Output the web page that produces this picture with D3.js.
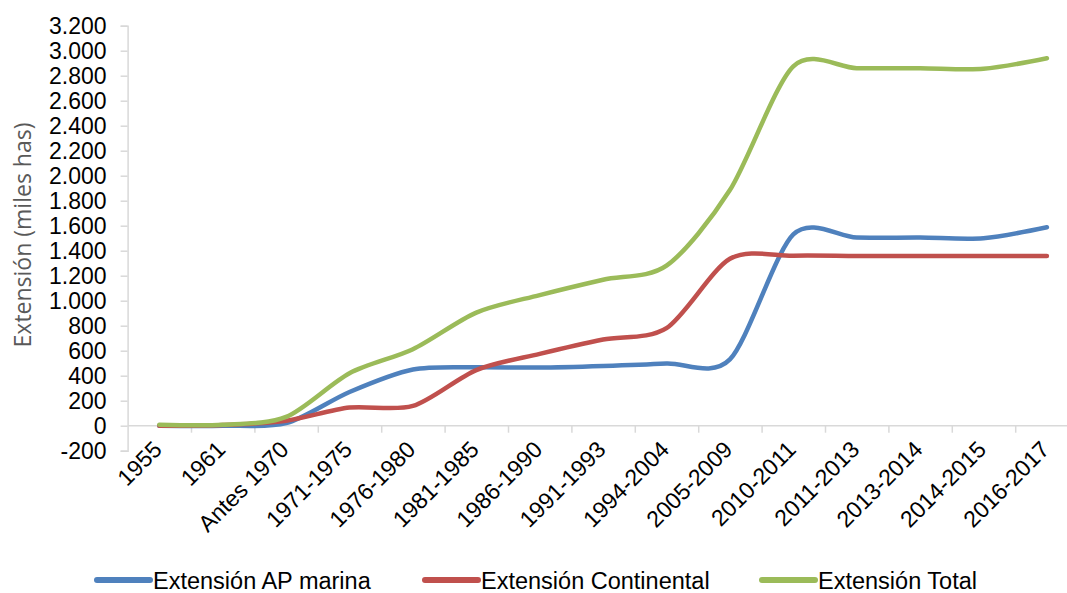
<!DOCTYPE html>
<meta charset="utf-8">
<style>
body{
    margin: 0;
    background: #fff;
}
text {
  font-family: "Liberation Sans", Arial, sans-serif;
  fill: #000;
}
.line {
  fill: none;
  stroke-width: 4.5px;
  stroke-linecap: round;
  stroke-linejoin: round;
}
.axis path, .axis line {
  stroke: #d9d9d9;
  stroke-width: 1.5px;
}
</style>
<body>

<div id="chart"></div>

<script src="https://d3js.org/d3.v7.min.js"></script>
<script>

var categories = ["1955", "1961", "Antes 1970", "1971-1975", "1976-1980", "1981-1985",
                  "1986-1990", "1991-1993", "1994-2004", "2005-2009", "2010-2011",
                  "2011-2013", "2013-2014", "2014-2015", "2016-2017"];

var marina      = [0, 0, 20, 270, 450, 468, 465, 478, 498, 530, 1530, 1505, 1505, 1500, 1587];
var continental = [0, 5, 40, 145, 158, 445, 575, 690, 780, 1335, 1360, 1358, 1358, 1357, 1357];
var total       = [8, 8, 70, 420, 612, 905, 1045, 1168, 1280, 1885, 2875, 2860, 2860, 2855, 2940];

var seriesNames = ["Extensión AP marina", "Extensión Continental", "Extensión Total"];
var colors = ["#4F81BD", "#C0504D", "#9BBB59"];
var yTicks = d3.range(-200, 3201, 200);

var width = 1067, height = 593;
var plotLeft = 127.6, plotRight = 1078.6, plotTop = 25.7, plotBottom = 450.7;

var svg = d3.select("#chart")
  .append("svg")
    .attr("width", width)
    .attr("height", height);

var x = d3.scaleBand()
    .domain(categories)
    .range([plotLeft, plotRight])
    .paddingInner(0);

var xb = d3.scaleLinear()
    .domain([0, categories.length])
    .range([plotLeft, plotRight]);

var y = d3.scaleLinear()
    .domain([-200, 3200])
    .range([plotBottom, plotTop]);

var es = d3.formatLocale({decimal: ",", thousands: ".", grouping: [3], currency: ["", ""], minus: "-"});
var fmt = es.format(",d");

// y axis
var gy = svg.append("g")
    .attr("class", "axis")
    .attr("transform", "translate(" + plotLeft + ",0)")
    .call(d3.axisLeft(y).tickValues(yTicks).tickSize(7).tickPadding(14).tickFormat(fmt));
gy.selectAll("text")
    .style("font-size", "23px")
    .attr("dy", "0.36em");

// category axis on the zero line, ticks between categories
var gx = svg.append("g")
    .attr("class", "axis")
    .attr("transform", "translate(0," + y(0) + ")")
    .call(d3.axisBottom(xb).tickValues(d3.range(1, categories.length + 1)).tickSize(7).tickFormat(""));
gx.select(".domain").attr("d", "M" + plotLeft + ",0H" + plotRight);

svg.append("g")
  .selectAll("text")
  .data(categories)
  .enter()
  .append("text")
    .attr("transform", function(d) { return "translate(" + (x(d) + x.bandwidth() / 2 + 4) + ",451) rotate(-45)"; })
    .attr("text-anchor", "end")
    .style("font-size", "23px")
    .text(function(d) { return d; });

// y title
svg.append("text")
    .attr("transform", "translate(31,235) rotate(-90)")
    .attr("text-anchor", "middle")
    .style("font-family", "'Open Sans', sans-serif")
    .style("font-size", "23px")
    .style("fill", "#595959")
    .text("Extensión (miles has)");

// lines
var line = d3.line()
    .x(function(d, i) { return x(categories[i]) + x.bandwidth() / 2; })
    .y(function(d) { return y(d); })
    .curve(d3.curveCardinal.tension(0.15));

[marina, continental, total].forEach(function(s, i) {
  svg.append("path")
      .datum(s)
      .attr("class", "line")
      .attr("d", line)
      .style("stroke", colors[i]);
});

// legend
var legendX = [97, 425, 762];
var leg = svg.append("g")
  .selectAll("g")
  .data(seriesNames)
  .enter()
  .append("g")
    .attr("transform", function(d, i) { return "translate(" + legendX[i] + ",580)"; });
leg.append("line")
    .attr("x1", 0).attr("x2", 53)
    .attr("y1", 0).attr("y2", 0)
    .style("stroke", function(d, i) { return colors[i]; })
    .style("stroke-width", 6)
    .style("stroke-linecap", "round");
leg.append("text")
    .attr("x", 56)
    .attr("y", 8.5)
    .style("font-size", "23.5px")
    .text(function(d) { return d; });

</script>
</body>
